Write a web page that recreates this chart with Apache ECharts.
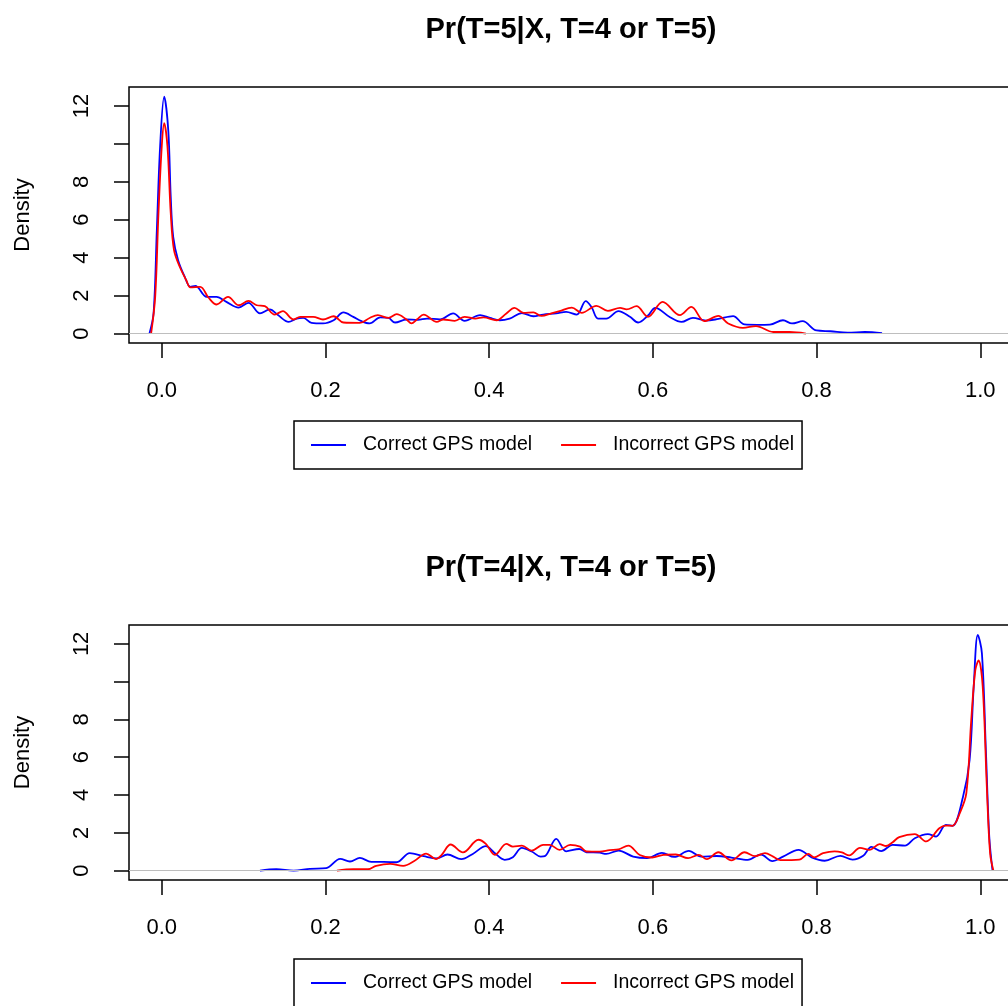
<!DOCTYPE html>
<html>
<head>
<meta charset="utf-8">
<title>Pr(T|X) density</title>
<script src="https://cdn.jsdelivr.net/npm/echarts@6/dist/echarts.min.js"></script>
<style>
  html, body { margin: 0; padding: 0; overflow: hidden; background: #fff; }
  #chart { width: 1016px; height: 1006px; }
</style>
</head>
<body>
<div id="chart"></div>
<script>
// 刻度
var xTicks = [0, 0.2, 0.4, 0.6, 0.8, 1.0];
var yTicks = [0, 2, 4, 6, 8, 10, 12];
var yLabels = [0, 2, 4, 6, 8, 12];   // 10 has a tick but no label
var legendNames = ['Correct GPS model', 'Incorrect GPS model'];
var titles = ['Pr(T=5|X, T=4 or T=5)', 'Pr(T=4|X, T=4 or T=5)'];

// 上图 Pr(T=5|...) 密度 [x, density]
var t5Correct = [[-0.015,0],[-0.010,1.06],[-0.006,5.45],[-0.002,9.85],[0.003,12.49],[0.008,10.7],[0.011,7.2],[0.014,5.1],[0.020,3.87],[0.028,3.0],[0.035,2.46],[0.041,2.51],[0.055,1.93],[0.067,1.93],[0.079,1.67],[0.094,1.37],[0.106,1.62],[0.120,1.06],[0.132,1.27],[0.142,0.97],[0.155,0.61],[0.165,0.79],[0.173,0.82],[0.183,0.56],[0.197,0.53],[0.210,0.70],[0.222,1.11],[0.234,0.88],[0.244,0.65],[0.254,0.53],[0.267,0.85],[0.277,0.82],[0.285,0.58],[0.299,0.74],[0.313,0.72],[0.324,0.79],[0.340,0.75],[0.356,1.06],[0.370,0.67],[0.389,0.97],[0.401,0.82],[0.413,0.70],[0.425,0.79],[0.440,1.08],[0.454,0.91],[0.466,1.0],[0.482,1.06],[0.494,1.14],[0.507,1.0],[0.518,1.71],[0.525,1.40],[0.533,0.79],[0.543,0.79],[0.558,1.18],[0.572,0.88],[0.582,0.58],[0.594,0.95],[0.603,1.35],[0.621,0.86],[0.635,0.61],[0.649,0.83],[0.665,0.68],[0.680,0.77],[0.698,0.92],[0.712,0.48],[0.728,0.46],[0.743,0.47],[0.759,0.70],[0.770,0.53],[0.783,0.65],[0.800,0.16],[0.817,0.12],[0.838,0.05],[0.859,0.08],[0.880,0.02]];
var t5Incorrect = [[-0.013,0],[-0.008,1.93],[-0.004,6.34],[0.0,9.85],[0.003,11.09],[0.007,9.85],[0.011,6.34],[0.015,4.4],[0.022,3.52],[0.030,2.81],[0.035,2.43],[0.047,2.46],[0.057,1.9],[0.067,1.53],[0.081,1.93],[0.094,1.49],[0.106,1.72],[0.116,1.49],[0.126,1.44],[0.138,1.0],[0.148,1.18],[0.161,0.74],[0.169,0.88],[0.185,0.88],[0.197,0.74],[0.210,0.91],[0.222,0.58],[0.242,0.56],[0.254,0.82],[0.264,0.97],[0.277,0.82],[0.287,1.02],[0.299,0.74],[0.305,0.53],[0.312,0.75],[0.320,1.0],[0.336,0.61],[0.344,0.74],[0.358,0.67],[0.370,0.88],[0.383,0.79],[0.393,0.85],[0.409,0.70],[0.421,1.06],[0.431,1.35],[0.442,1.09],[0.454,1.11],[0.464,0.93],[0.476,1.06],[0.486,1.18],[0.501,1.37],[0.513,1.09],[0.531,1.46],[0.545,1.19],[0.560,1.35],[0.568,1.27],[0.580,1.44],[0.594,0.88],[0.612,1.67],[0.633,0.97],[0.647,1.40],[0.663,0.65],[0.680,0.93],[0.692,0.53],[0.710,0.30],[0.726,0.39],[0.747,0.08],[0.767,0.08],[0.787,0.0]];

// 下图 Pr(T=4|...) 密度 [x, density]
var t4Correct = [[0.120,0],[0.140,0.07],[0.161,0.0],[0.181,0.09],[0.201,0.13],[0.218,0.62],[0.230,0.48],[0.242,0.67],[0.256,0.46],[0.271,0.46],[0.287,0.44],[0.303,0.92],[0.320,0.76],[0.336,0.64],[0.349,0.85],[0.366,0.60],[0.380,0.88],[0.396,1.29],[0.406,0.96],[0.419,0.57],[0.429,0.71],[0.440,1.2],[0.452,1.01],[0.463,0.74],[0.468,0.76],[0.482,1.68],[0.494,1.02],[0.510,1.14],[0.519,0.97],[0.535,0.95],[0.543,0.88],[0.558,1.06],[0.576,0.74],[0.593,0.66],[0.611,0.94],[0.626,0.72],[0.644,1.04],[0.659,0.74],[0.678,0.77],[0.696,0.69],[0.716,0.57],[0.732,0.85],[0.746,0.50],[0.759,0.74],[0.778,1.10],[0.794,0.70],[0.810,0.52],[0.829,0.78],[0.844,0.58],[0.857,0.78],[0.867,1.25],[0.879,1.03],[0.893,1.36],[0.908,1.32],[0.920,1.71],[0.936,1.93],[0.946,1.80],[0.958,2.42],[0.966,2.37],[0.979,3.92],[0.987,5.86],[0.992,9.74],[0.997,12.48],[1.002,11.51],[1.007,6.21],[1.011,1.80],[1.015,0]];
var t4Incorrect = [[0.214,0],[0.234,0.07],[0.252,0.07],[0.262,0.25],[0.279,0.35],[0.295,0.25],[0.309,0.52],[0.323,0.90],[0.335,0.61],[0.342,0.83],[0.353,1.38],[0.368,0.96],[0.387,1.63],[0.396,1.41],[0.407,0.83],[0.421,1.41],[0.429,1.27],[0.440,1.32],[0.452,1.06],[0.466,1.36],[0.474,1.36],[0.486,1.10],[0.499,1.36],[0.511,1.27],[0.519,1.01],[0.535,1.0],[0.547,1.08],[0.558,1.12],[0.570,1.32],[0.584,0.82],[0.599,0.69],[0.613,0.83],[0.628,0.85],[0.643,0.66],[0.656,0.83],[0.666,0.60],[0.680,0.97],[0.696,0.54],[0.712,0.97],[0.725,0.76],[0.737,0.92],[0.747,0.74],[0.756,0.55],[0.779,0.58],[0.790,0.88],[0.797,0.70],[0.808,0.92],[0.822,1.02],[0.831,0.96],[0.840,0.80],[0.853,1.2],[0.865,1.1],[0.877,1.4],[0.885,1.3],[0.893,1.5],[0.901,1.77],[0.920,1.93],[0.934,1.54],[0.950,2.24],[0.958,2.38],[0.966,2.37],[0.975,3.04],[0.983,4.1],[0.989,7.98],[0.994,10.62],[0.998,11.12],[1.003,9.74],[1.008,4.45],[1.012,0.92],[1.016,0]];

var FONT = '"Liberation Sans", Arial, sans-serif';
var BLUE = '#0000ff', RED = '#ff0000';

// 两个面板的位置 (R 的 mfrow=c(2,1))
var panelTop = [87, 625];
var panelH = [256, 255];

function makeX(i) {
  return {
    type: 'value', gridIndex: i, min: -0.04, max: 1.04,
    splitLine: { show: false },
    axisLine: { show: false, onZero: false },
    axisTick: { show: true, inside: false, length: 15, customValues: xTicks,
      lineStyle: { color: '#000', width: 1.5 } },
    axisLabel: { customValues: xTicks, margin: 37, color: '#000', fontSize: 22, fontFamily: FONT,
      formatter: function (v) { return v.toFixed(1); } }
  };
}

function makeY(i) {
  return {
    type: 'value', gridIndex: i, min: -0.5, max: 13,
    name: 'Density', nameLocation: 'middle', nameGap: 95, nameRotate: 90, nameMoveOverlap: false,
    nameTextStyle: { color: '#000', fontSize: 22, fontFamily: FONT },
    splitLine: { show: false },
    axisLine: { show: false, onZero: false },
    axisTick: { show: true, inside: false, length: 15, customValues: yTicks,
      lineStyle: { color: '#000', width: 1.5 } },
    axisLabel: { customValues: yLabels, rotate: 90, margin: 36, color: '#000', fontSize: 22, fontFamily: FONT }
  };
}

function makeLine(name, i, data, color, withZero) {
  var s = {
    name: name, type: 'line', xAxisIndex: i, yAxisIndex: i,
    data: data, showSymbol: false, symbol: 'none', smooth: 0.35,
    lineStyle: { color: color, width: 1.8 }, itemStyle: { color: color },
    z: color === RED ? 3 : 2, animation: false
  };
  if (withZero) {
    // density() 图里的灰色零线
    s.markLine = {
      silent: true, symbol: ['none', 'none'], animation: false,
      label: { show: false },
      lineStyle: { color: '#bebebe', type: 'solid', width: 1.2 },
      data: [{ yAxis: 0 }]
    };
  }
  return s;
}

function makeLegend(top) {
  return {
    data: legendNames, left: 294, top: top, orient: 'horizontal',
    selectedMode: false, icon: 'rect', itemWidth: 35, itemHeight: 2, itemGap: 29,
    padding: [14, 8, 14, 17],
    borderColor: '#000', borderWidth: 1.5, backgroundColor: '#fff',
    formatter: function (n) { return '{s|}' + n; },
    textStyle: { color: '#000', fontSize: 19.5, fontFamily: FONT,
      rich: { s: { width: 12 } } }
  };
}

var myChart = echarts.init(document.getElementById('chart'));

var option = {
  backgroundColor: '#fff',
  animation: false,
  title: titles.map(function (t, i) {
    return {
      text: t, left: 571, top: [15, 553][i], textAlign: 'center', padding: 0,
      textStyle: { color: '#000', fontSize: 29, fontWeight: 'bold', fontFamily: FONT }
    };
  }),
  legend: [makeLegend(421), makeLegend(959)],
  grid: [0, 1].map(function (i) {
    return { left: 129, top: panelTop[i], width: 884, height: panelH[i],
      show: true, borderColor: '#000', borderWidth: 1.5, containLabel: false };
  }),
  xAxis: [makeX(0), makeX(1)],
  yAxis: [makeY(0), makeY(1)],
  series: [
    makeLine(legendNames[0], 0, t5Correct, BLUE, true),
    makeLine(legendNames[1], 0, t5Incorrect, RED, false),
    makeLine(legendNames[0], 1, t4Correct, BLUE, true),
    makeLine(legendNames[1], 1, t4Incorrect, RED, false)
  ]
};

myChart.setOption(option);
</script>
</body>
</html>
